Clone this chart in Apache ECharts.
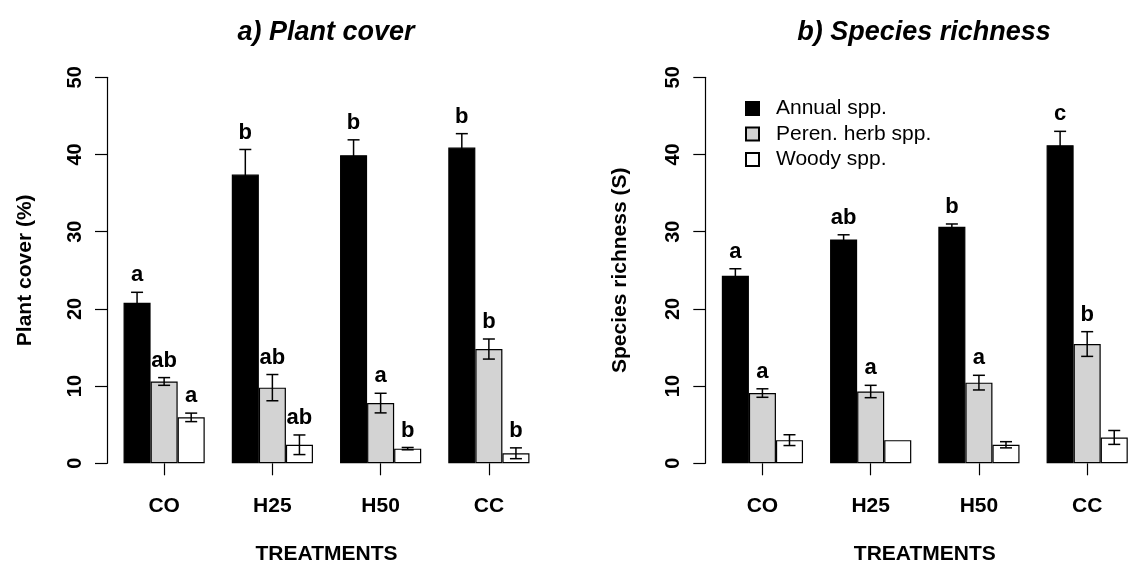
<!DOCTYPE html>
<html>
<head>
<meta charset="utf-8">
<script src="https://cdn.jsdelivr.net/npm/echarts@6/dist/echarts.min.js"></script>
<style>
html,body{margin:0;padding:0;background:#fff;}
#chart{width:1130px;height:564px;}
</style>
</head>
<body>
<div id="chart"></div>
<script>
// ---------- data ----------
const categories = ['CO', 'H25', 'H50', 'CC'];
const seriesNames = ['Annual spp.', 'Peren. herb spp.', 'Woody spp.'];
const yTicks = [0, 10, 20, 30, 40, 50];

// a) Plant cover (%)
const coverAnnual = [20.8, 37.4, 39.9, 40.9];
const coverAnnualErr = [1.35, 3.25, 2.0, 1.8];
const coverPeren = [10.6, 9.8, 7.8, 14.8];
const coverPerenErr = [0.5, 1.7, 1.27, 1.3];
const coverWoody = [5.95, 2.4, 1.9, 1.3];
const coverWoodyErr = [0.55, 1.27, 0.15, 0.7];
const coverAnnualLetters = ['a', 'b', 'b', 'b'];
const coverPerenLetters = ['ab', 'ab', 'a', 'b'];
const coverWoodyLetters = ['a', 'ab', 'b', 'b'];

// b) Species richness (S)
const richAnnual = [24.3, 29.0, 30.65, 41.2];
const richAnnualErr = [0.9, 0.6, 0.35, 1.8];
const richPeren = [9.1, 9.3, 10.45, 15.45];
const richPerenErr = [0.55, 0.8, 0.95, 1.6];
const richWoody = [3.0, 3.0, 2.4, 3.35];
const richWoodyErr = [0.7, 0, 0.4, 0.9];
const richAnnualLetters = ['a', 'ab', 'b', 'c'];
const richPerenLetters = ['a', 'a', 'a', 'b'];
const richWoodyLetters = ['', '', '', ''];

// ---------- styling ----------
const FONT = 'Liberation Sans';
const barColors = ['#000000', '#d3d3d3', '#ffffff'];
const BAR_FRAC = 0.75; // fraction of category band used by the 3 bars

function barSeries(name, data, idx, axisIdx) {
  return {
    type: 'bar', name: name, data: data,
    xAxisIndex: axisIdx, yAxisIndex: axisIdx,
    barGap: '0%', barCategoryGap: '25%',
    itemStyle: { color: barColors[idx], borderColor: '#000', borderWidth: 1.2 },
    z: 2
  };
}

function errSeries(vals, errs, k, axisIdx) {
  return {
    type: 'custom', xAxisIndex: axisIdx, yAxisIndex: axisIdx, z: 5,
    silent: true,
    data: vals.map((v, i) => [i, v, errs[i], k]),
    renderItem: function (params, api) {
      const ci = api.value(0), v = api.value(1), e = api.value(2), kk = api.value(3);
      if (!(e > 0)) return null;
      const bw = api.size([1, 0])[0] * BAR_FRAC / 3;
      const x = api.coord([ci, v])[0] + (kk - 1) * bw;
      const top = api.coord([ci, v + e])[1];
      const bot = api.coord([ci, v - e])[1];
      const h = 6;
      const st = { stroke: '#000', lineWidth: 1.5 };
      return { type: 'group', children: [
        { type: 'line', shape: { x1: x, y1: top, x2: x, y2: bot }, style: st },
        { type: 'line', shape: { x1: x - h, y1: top, x2: x + h, y2: top }, style: st },
        { type: 'line', shape: { x1: x - h, y1: bot, x2: x + h, y2: bot }, style: st }
      ] };
    }
  };
}

function letterSeries(vals, errs, letters, k, axisIdx) {
  return {
    type: 'custom', xAxisIndex: axisIdx, yAxisIndex: axisIdx, z: 6,
    silent: true,
    data: vals.map((v, i) => [i, v + errs[i], k]),
    renderItem: function (params, api) {
      const txt = letters[params.dataIndex];
      if (!txt) return null;
      const ci = api.value(0), t = api.value(1), kk = api.value(2);
      const bw = api.size([1, 0])[0] * BAR_FRAC / 3;
      const p = api.coord([ci, t]);
      return {
        type: 'text', x: p[0] + (kk - 1) * bw, y: p[1] - 6,
        style: { text: txt, textAlign: 'center', textVerticalAlign: 'bottom',
                 font: 'bold 22px "' + FONT + '"', fill: '#000' }
      };
    }
  };
}

function yAxisCfg(name, gridIdx, gap) {
  return {
    type: 'value', gridIndex: gridIdx, min: yTicks[0], max: yTicks[yTicks.length - 1], interval: 10,
    offset: 3,
    name: name, nameLocation: 'middle', nameGap: gap, nameRotate: 90,
    nameTextStyle: { fontSize: 21, fontWeight: 'bold', color: '#000', fontFamily: FONT },
    axisLine: { show: true, lineStyle: { color: '#000', width: 1.2 } },
    axisTick: { show: true, length: 12, lineStyle: { color: '#000', width: 1.2 } },
    axisLabel: { rotate: 90, margin: 22, fontSize: 20, fontWeight: 'bold', color: '#000', fontFamily: FONT },
    splitLine: { show: false }
  };
}

function xAxisCfg(gridIdx) {
  return {
    type: 'category', gridIndex: gridIdx, data: categories,
    offset: 2,
    name: 'TREATMENTS', nameLocation: 'middle', nameGap: 78,
    nameTextStyle: { fontSize: 21, fontWeight: 'bold', color: '#000', fontFamily: FONT },
    axisLine: { show: false },
    axisTick: { show: true, alignWithLabel: true, length: 12, lineStyle: { color: '#000', width: 1.2 } },
    axisLabel: { margin: 30, fontSize: 21, fontWeight: 'bold', color: '#000', fontFamily: FONT },
    splitLine: { show: false }
  };
}

const option = {
  animation: false,
  backgroundColor: '#fff',
  textStyle: { fontFamily: FONT },
  title: [
    { text: 'a) Plant cover', left: 321, top: 14, textAlign: 'center',
      textStyle: { fontSize: 27, fontWeight: 'bold', fontStyle: 'italic', color: '#000', fontFamily: FONT } },
    { text: 'b) Species richness', left: 919, top: 14, textAlign: 'center',
      textStyle: { fontSize: 27, fontWeight: 'bold', fontStyle: 'italic', color: '#000', fontFamily: FONT } }
  ],
  legend: {
    data: seriesNames, orient: 'vertical', left: 740, top: 93,
    itemWidth: 13, itemHeight: 13, itemGap: 4.5, icon: 'rect',
    selectedMode: false,
    textStyle: { fontSize: 21, color: '#000', fontFamily: FONT, padding: [0, 0, 0, 12] }
  },
  grid: [
    { left: 110, width: 433, top: 77.3, height: 386, outerBoundsMode: 'none', containLabel: false },
    { left: 708.3, width: 433, top: 77.3, height: 386, outerBoundsMode: 'none', containLabel: false }
  ],
  xAxis: [xAxisCfg(0), xAxisCfg(1)],
  yAxis: [yAxisCfg('Plant cover (%)', 0, 71), yAxisCfg('Species richness (S)', 1, 75)],
  series: [
    barSeries(seriesNames[0], coverAnnual, 0, 0),
    barSeries(seriesNames[1], coverPeren, 1, 0),
    barSeries(seriesNames[2], coverWoody, 2, 0),
    errSeries(coverAnnual, coverAnnualErr, 0, 0),
    errSeries(coverPeren, coverPerenErr, 1, 0),
    errSeries(coverWoody, coverWoodyErr, 2, 0),
    letterSeries(coverAnnual, coverAnnualErr, coverAnnualLetters, 0, 0),
    letterSeries(coverPeren, coverPerenErr, coverPerenLetters, 1, 0),
    letterSeries(coverWoody, coverWoodyErr, coverWoodyLetters, 2, 0),

    barSeries(seriesNames[0], richAnnual, 0, 1),
    barSeries(seriesNames[1], richPeren, 1, 1),
    barSeries(seriesNames[2], richWoody, 2, 1),
    errSeries(richAnnual, richAnnualErr, 0, 1),
    errSeries(richPeren, richPerenErr, 1, 1),
    errSeries(richWoody, richWoodyErr, 2, 1),
    letterSeries(richAnnual, richAnnualErr, richAnnualLetters, 0, 1),
    letterSeries(richPeren, richPerenErr, richPerenLetters, 1, 1),
    letterSeries(richWoody, richWoodyErr, richWoodyLetters, 2, 1)
  ]
};

const chart = echarts.init(document.getElementById('chart'), null, { renderer: 'canvas' });
chart.setOption(option);
</script>
</body>
</html>
